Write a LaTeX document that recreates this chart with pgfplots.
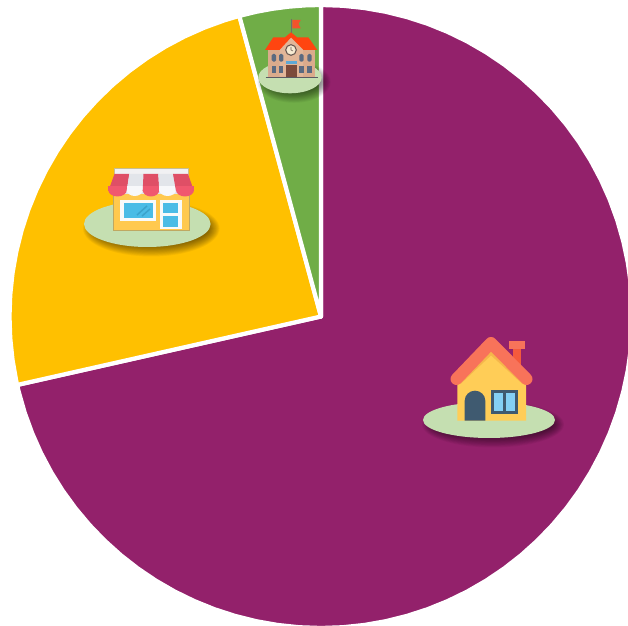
\documentclass[border=0pt]{standalone}
\usepackage{pgfplots}
\pgfplotsset{compat=1.18}
\usepgfplotslibrary{polar}
\definecolor{cpurple}{HTML}{93216B}
\definecolor{cyellow}{HTML}{FFC000}
\definecolor{cgreen}{HTML}{70AD47}
\definecolor{cdisk}{HTML}{C5DFB1}
\newcommand{\hexc}[1]{\definecolor{c#1}{HTML}{#1}}
\hexc{F45A3C}\hexc{F8735A}\hexc{FFCD57}\hexc{F5B64B}\hexc{3F5A70}\hexc{84D0F5}\hexc{FFC94F}
\hexc{BFA862}\hexc{F1F1F3}\hexc{C9BE90}\hexc{E2E5EA}\hexc{DF4F66}\hexc{F0586F}\hexc{F7F8FA}
\hexc{F8FAFA}\hexc{4ABCE6}\hexc{3AA3CC}\hexc{6E6E6E}\hexc{F4532C}\hexc{DAAB8C}\hexc{E2B698}
\hexc{FF4510}\hexc{F7EBD2}\hexc{6B5B55}\hexc{5A6A80}\hexc{5FA9D6}\hexc{7C4B3B}\hexc{5A5A62}
\newcommand{\shad}[4]{%
  \foreach \k in {0,1,...,13}{%
    \fill[black,opacity=0.04] ({#1+4},{#2+4.5}) ellipse ({#3+5-\k*0.8} and {#4+5-\k*0.8});
  }%
  \fill[cdisk] (#1,#2) ellipse ({#3} and {#4});
}
\begin{document}
\begin{tikzpicture}
\path[use as bounding box] (0,0) rectangle (628bp,626bp);
\begin{axis}[
  at={(0,0)},anchor=south west,
  scale only axis,width=628bp,height=626bp,
  xmin=-321,xmax=307,ymin=-309.5,ymax=316.5,
  axis lines=none,clip=true,
]
% slices: (polar angle, radius)
\addplot[data cs=polar,fill=cpurple,draw=white,line width=4.2bp,line cap=round,line join=round] coordinates {
 (90,0)(90,311.5)(86,311.5)(82,311.5)(78,311.5)(74,311.5)(70,311.5)(66,311.5)(62,311.5)(58,311.5)(54,311.5)(50,311.5)
 (46,311.5)(42,311.5)(38,311.5)(34,311.5)(30,311.5)(26,311.5)(22,311.5)(18,311.5)(14,311.5)(10,311.5)(6,311.5)(2,311.5)
 (-2,311.5)(-6,311.5)(-10,311.5)(-14,311.5)(-18,311.5)(-22,311.5)(-26,311.5)(-30,311.5)(-34,311.5)(-38,311.5)(-42,311.5)
 (-46,311.5)(-50,311.5)(-54,311.5)(-58,311.5)(-62,311.5)(-66,311.5)(-70,311.5)(-74,311.5)(-78,311.5)(-82,311.5)(-86,311.5)
 (-90,311.5)(-94,311.5)(-98,311.5)(-102,311.5)(-106,311.5)(-110,311.5)(-114,311.5)(-118,311.5)(-122,311.5)(-126,311.5)
 (-130,311.5)(-134,311.5)(-138,311.5)(-142,311.5)(-146,311.5)(-150,311.5)(-154,311.5)(-158,311.5)(-162,311.5)(-166,311.5)
 (-167.3,311.5)(-167.3,0)};
\addplot[data cs=polar,fill=cyellow,draw=white,line width=4.2bp,line cap=round,line join=round] coordinates {
 (105.2,0)(105.2,311.5)(108,311.5)(112,311.5)(116,311.5)(120,311.5)(124,311.5)(128,311.5)(132,311.5)(136,311.5)(140,311.5)
 (144,311.5)(148,311.5)(152,311.5)(156,311.5)(160,311.5)(164,311.5)(168,311.5)(172,311.5)(176,311.5)(180,311.5)(184,311.5)
 (188,311.5)(192,311.5)(192.7,311.5)(192.7,0)};
\addplot[data cs=polar,fill=cgreen,draw=white,line width=4.2bp,line cap=round,line join=round] coordinates {
 (90,0)(90,311.5)(93,311.5)(96,311.5)(99,311.5)(102,311.5)(105.2,311.5)(105.2,0)};
\end{axis}
\begin{scope}[x=1bp,y=-1bp,yshift=626bp]
% house
\shad{489}{420}{66}{18}
\fill[cF45A3C] (512.7,349) rectangle (520.7,366);
\fill[cF8735A] (509,341) rectangle (525,349.3);
\fill[cFFCD57] (457.3,420.7) -- (457.3,378) -- (491,344) -- (526,378) -- (526,420.7) -- cycle;
\draw[cF5B64B,line width=5bp,line join=round] (459,382) -- (491,352) -- (524,382);
\draw[cF8735A,line width=12bp,line cap=round,line join=round] (456.5,379) -- (491,343) -- (526.5,379);
\fill[c3F5A70] (464.7,420.7) -- (464.7,400.7) arc[start angle=180,end angle=360,x radius=10.3,y radius=10] -- (485.3,420.7) -- cycle;
\fill[c3F5A70] (491.3,390.3) rectangle (517.7,414);
\fill[c84D0F5] (493.6,393) rectangle (503.4,411.5);
\fill[c84D0F5] (505.6,393) rectangle (515.4,411.5);
% shop
\shad{147.3}{224}{63.3}{23}
\fill[cFFC94F,draw=cBFA862,line width=0.8bp] (113.5,190) rectangle (189,230);
\fill[cF1F1F3,draw=cC9BE90,line width=0.8bp] (114,168.3) rectangle (188,176);
\fill[cE2E5EA] (114.5,174) rectangle (187.5,194);
\fill[cDF4F66] (114.5,174) -- (129.3,174) -- (126.7,191) -- (108.3,191) -- cycle;
\fill[cF0586F] (108.3,186) rectangle (126.7,191);
\fill[cF0586F] (108.3,190) arc[start angle=180,end angle=0,x radius=9.2,y radius=6.5] -- cycle;
\fill[cE2E5EA] (129.3,174) -- (143.5,174) -- (142.7,191) -- (126.7,191) -- cycle;
\fill[cF7F8FA] (126.7,186) rectangle (142.7,191);
\fill[cF7F8FA] (126.7,190) arc[start angle=180,end angle=0,x radius=8,y radius=6] -- cycle;
\fill[cDF4F66] (143.5,174) -- (158.3,174) -- (159.3,191) -- (142.7,191) -- cycle;
\fill[cF0586F] (142.7,186) rectangle (159.3,191);
\fill[cF0586F] (142.7,190) arc[start angle=180,end angle=0,x radius=8.3,y radius=6.5] -- cycle;
\fill[cE2E5EA] (158.3,174) -- (173,174) -- (176,191) -- (159.3,191) -- cycle;
\fill[cF7F8FA] (159.3,186) rectangle (176,191);
\fill[cF7F8FA] (159.3,190) arc[start angle=180,end angle=0,x radius=8.35,y radius=6] -- cycle;
\fill[cDF4F66] (173,174) -- (188,174) -- (194,191) -- (176,191) -- cycle;
\fill[cF0586F] (176,186) rectangle (194,191);
\fill[cF0586F] (176,190) arc[start angle=180,end angle=0,x radius=9,y radius=6.5] -- cycle;
\fill[cF8FAFA] (120,200) rectangle (156,220.7);
\fill[c4ABCE6] (124,202.7) rectangle (152.7,218);
\draw[c3AA3CC,line width=1.5bp] (137,215) -- (147,206) (142,216) -- (150,209);
\fill[cF8FAFA] (160,200) rectangle (181.7,229.3);
\fill[c4ABCE6] (163.3,202.7) rectangle (178.3,212.7);
\fill[c4ABCE6] (163.3,216) rectangle (178.3,226.7);
% school
\shad{290}{77.5}{31.7}{15.8}
\draw[c6E6E6E,line width=1.3bp] (291.3,19) -- (291.3,33);
\fill[cF4532C] (292.3,20) -- (300.7,20) -- (298.5,24) -- (300.7,28.3) -- (292.3,28.3) -- cycle;
\fill[cDAAB8C] (268.3,50) rectangle (315,76.7);
\fill[cE2B698] (279.5,48) -- (291,36) -- (303,48) -- (303,76.7) -- (279.5,76.7) -- cycle;
\fill[cFF4510] (265,50) -- (273.3,37.3) -- (285,37.3) -- (291,32.3) -- (297,37.3) -- (308.3,37.3) -- (317.3,50) -- (303.5,50) -- (291,37.5) -- (279.5,50) -- cycle;
\fill[cF7EBD2,draw=c6B5B55,line width=1.1bp] (291,50) circle (5.3);
\draw[c6B5B55,line width=0.6bp] (291,47) -- (291,50) -- (293,51);
\foreach \wx in {271.7,279,299.3,307.3}{
  \fill[c5A6A80,rounded corners=1.5bp] (\wx,54) rectangle ++(4.4,7.7);
  \fill[c5A6A80] (\wx,65.7) rectangle ++(4.4,7);
}
\fill[c5FA9D6] (286,61.5) rectangle (296.7,64);
\fill[c7C4B3B] (286,65) rectangle (296.7,76.7);
\draw[c5A5A62,line width=1.4bp] (265.7,77.3) -- (317.7,77.3);
\end{scope}
\end{tikzpicture}
\end{document}
